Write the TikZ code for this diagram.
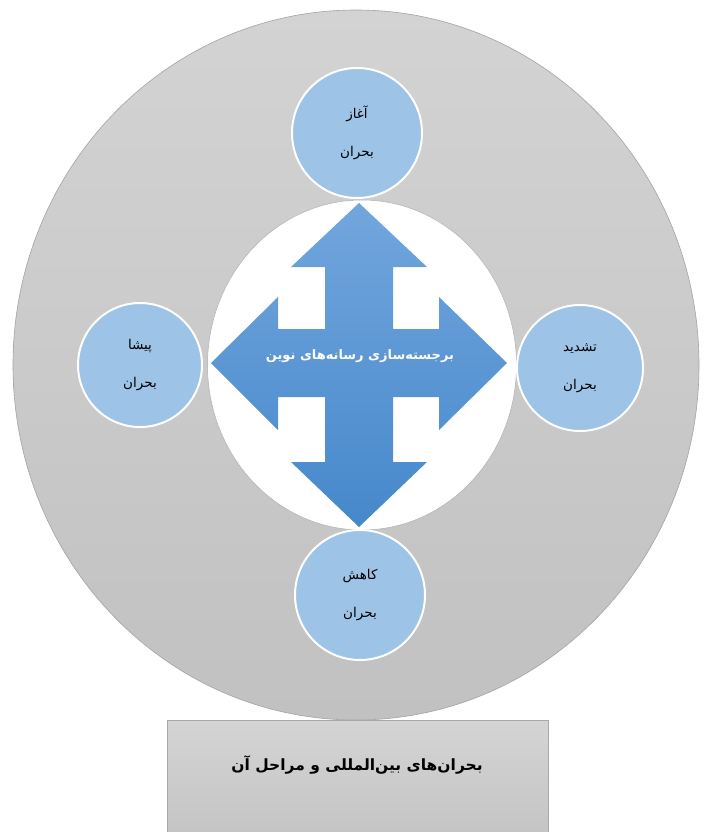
\documentclass[tikz,border=0pt]{standalone}
\usepackage{fontspec}
\newfontfamily\arfont[Script=Arabic]{DejaVu Sans}
\TeXXeTstate=1
\usetikzlibrary{shapes.geometric}
\definecolor{outerTop}{HTML}{D3D3D3}
\definecolor{outerBot}{HTML}{C1C1C1}
\definecolor{outerLine}{HTML}{A3A3A3}
\definecolor{innerLine}{HTML}{B0B0B0}
\definecolor{stageBlue}{HTML}{9DC3E6}
\definecolor{arrowTop}{HTML}{72A6DD}
\definecolor{arrowBot}{HTML}{4688CB}
\definecolor{boxTop}{HTML}{D4D4D4}
\definecolor{boxBot}{HTML}{C3C3C3}
\definecolor{boxLine}{HTML}{A8A8A8}
\tikzset{
  stage/.style={circle, fill=stageBlue, draw=white, line width=2pt,
    minimum size=128pt, inner sep=0pt, align=center,
    font=\arfont\fontsize{13.5}{15}\selectfont},
}
\begin{document}
\begin{tikzpicture}[x=1pt,y=-1pt]
\useasboundingbox (0,0) rectangle (705,832);
\clip (0,0) rectangle (705,832);
% outer gray disc
\node[ellipse, minimum width=686pt, minimum height=710pt, inner sep=0pt,
  top color=outerTop, bottom color=outerBot, draw=outerLine, line width=0.6pt]
  (outer) at (356,365) {};
% inner white disc
\node[ellipse, minimum width=309pt, minimum height=330pt, inner sep=0pt,
  fill=white, draw=innerLine, line width=0.5pt] (inner) at (362,365) {};
% stages
\node[stage, minimum size=130pt] (start) at (357,133)
  {\beginR آغاز\endR\\[23pt]\beginR بحران\endR};
\node[stage, minimum size=124pt] (pre) at (140,365)
  {\beginR پیشا\endR\\[23pt]\beginR بحران\endR};
\node[stage, minimum size=126pt] (esc) at (580,368)
  {\beginR تشدید\endR\\[23pt]\beginR بحران\endR};
\node[stage, minimum size=130pt] (dec) at (360,595)
  {\beginR کاهش\endR\\[23pt]\beginR بحران\endR};
% quad arrow
\path[top color=arrowTop, bottom color=arrowBot]
  (359,203) -- (427,267) -- (393,267) -- (393,329) -- (439,329) -- (439,297)
  -- (507,363) -- (439,430) -- (439,397) -- (393,397) -- (393,462)
  -- (427,462) -- (359,527) -- (291,462) -- (325,462) -- (325,397)
  -- (278,397) -- (278,430) -- (211,363) -- (278,297) -- (278,329)
  -- (325,329) -- (325,267) -- (291,267) -- cycle;
\node[text=white, font=\arfont\bfseries\fontsize{13}{15}\selectfont]
  (media) at (360,356) {\beginR برجسته‌سازی رسانه‌های نوین\endR};
% bottom box
\node[rectangle, minimum width=381pt, minimum height=125pt, inner sep=0pt,
  top color=boxTop, bottom color=boxBot, draw=boxLine, line width=0.8pt]
  (box) at (357.5,782.5) {};
\node[font=\arfont\bfseries\fontsize{15.5}{17}\selectfont] (title) at (357,765)
  {\beginR بحران‌های بین‌المللی و مراحل آن\endR};
\end{tikzpicture}
\end{document}
